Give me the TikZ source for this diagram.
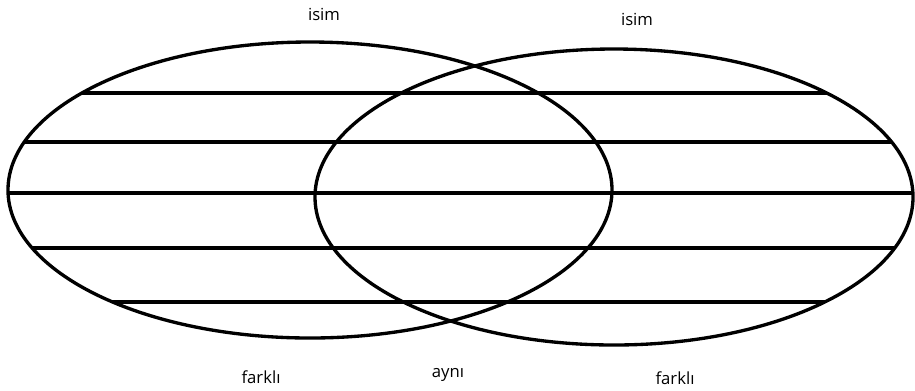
\documentclass[tikz,border=0pt]{standalone}
\usepackage{fontspec}
\setmainfont{Open Sans}
\tikzset{
  setline/.style={line width=1.9pt},
  hatch/.style={line width=1.8pt},
  lbl/.style={font=\fontsize{9.5}{11}\selectfont, inner sep=0pt},
}

\begin{document}
\begin{tikzpicture}[x=0.02cm, y=-0.02cm]
  \useasboundingbox (0,0) rectangle (915,390);
  \coordinate (lc) at (310,190);
  \coordinate (rc) at (614,197);
  % horizontal hatching inside the union
  \begin{scope}
    \clip (lc) ellipse [x radius=302, y radius=148]
          (rc) ellipse [x radius=299, y radius=148];
    \foreach \y in {93,142,193,248,302}
      \draw[hatch] (0,\y) -- (915,\y);
  \end{scope}
  \draw[setline] (lc) ellipse [x radius=302, y radius=148];
  \draw[setline] (rc) ellipse [x radius=299, y radius=148];
  \node[lbl] (isimL) at (324,14) {isim};
  \node[lbl] (isimR) at (637,19) {isim};
  \node[lbl] (farkL) at (261,377) {farklı};
  \node[lbl] (ayni) at (448,375) {aynı};
  \node[lbl] (farkR) at (675,378) {farklı};
\end{tikzpicture}
\end{document}
